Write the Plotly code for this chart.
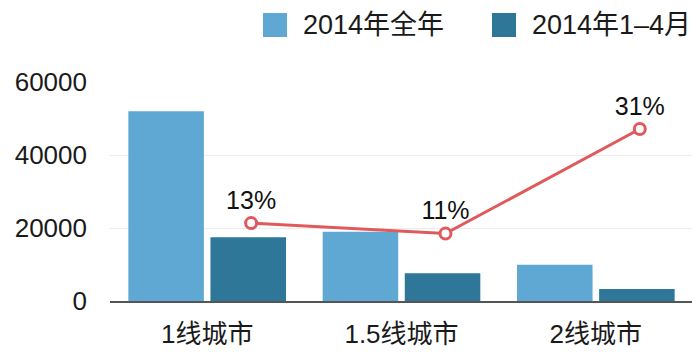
import plotly.graph_objects as go

categories = ["1线城市", "1.5线城市", "2线城市"]
full_year = [52000, 19000, 9900]
jan_apr = [17500, 7600, 3300]
growth_pct = [13, 11, 31]
growth_labels = ["13%", "11%", "31%"]
series_names = ["2014年全年", "2014年1–4月"]
y_ticks = [0, 20000, 40000, 60000]

LIGHT = "#5fa8d3"
DARK = "#2e7799"
RED = "#e05a5c"
FONT = "Liberation Sans, Arial, Noto Sans CJK SC, sans-serif"

# page body has an 8px margin; size the figure so the plot lands where intended
W, H = 692, 348
ML, MR, MT, MB = 102, 7, 74, 55
PW, PH = W - ML - MR, H - MT - MB

BARGAP = 0.155
idx = list(range(len(categories)))
slot = (1 - BARGAP) / 2
line_x = [i + slot / 2 + 0.015 for i in idx]

fig = go.Figure()
fig.add_trace(go.Bar(x=idx, y=full_year, name=series_names[0], marker_color=LIGHT,
                     marker_line_width=0, showlegend=False))
fig.add_trace(go.Bar(x=idx, y=jan_apr, name=series_names[1], marker_color=DARK,
                     marker_line_width=0, showlegend=False))
fig.add_trace(go.Scatter(x=line_x, y=growth_pct, yaxis="y2", mode="lines+markers+text",
                         text=growth_labels, textposition="top center",
                         textfont=dict(size=25, color="#111", family=FONT),
                         line=dict(color=RED, width=3),
                         marker=dict(symbol="circle", size=11, color="white",
                                     line=dict(color=RED, width=3)),
                         showlegend=False, cliponaxis=False))

# custom legend (large squares) in pixel offsets from the plot's top-left corner
def px_x(p):
    return p / PW

def px_y(p):
    return 1 - p / PH

legend_items = [(series_names[0], LIGHT, 153), (series_names[1], DARK, 382)]
shapes, annotations = [], []
for nm, col, off in legend_items:
    shapes.append(dict(type="rect", xref="paper", yref="paper",
                       x0=px_x(off), x1=px_x(off + 24), y0=px_y(-45), y1=px_y(-69),
                       fillcolor=col, line=dict(width=0)))
    annotations.append(dict(xref="paper", yref="paper", x=px_x(off + 38), y=px_y(-57),
                            xanchor="left", yanchor="middle", showarrow=False,
                            text=nm, font=dict(size=27, color="#1a1a1a", family=FONT)))

fig.update_layout(
    width=W, height=H,
    margin=dict(l=ML, r=MR, t=MT, b=MB, autoexpand=False),
    plot_bgcolor="white", paper_bgcolor="white",
    barmode="group", bargap=BARGAP, bargroupgap=0.08,
    font=dict(family=FONT, size=21, color="#1a1a1a"),
    showlegend=False,
    shapes=shapes, annotations=annotations,
    xaxis=dict(tickmode="array", tickvals=idx, ticktext=categories,
               range=[-0.5, 2.5], showgrid=False, showline=True,
               linecolor="#555", linewidth=1.5, ticks="", zeroline=False,
               tickfont=dict(size=26), ticklabelstandoff=9, automargin=False),
    yaxis=dict(range=[0, 60000], tickvals=y_ticks, tickformat="d", showgrid=True,
               gridcolor="#ececec", gridwidth=1, zeroline=False, ticks="",
               tickfont=dict(size=26), ticklabelstandoff=22, automargin=False),
    yaxis2=dict(overlaying="y", side="right", range=[-1.9, 40], visible=False),
)
fig.write_html("out.html")
